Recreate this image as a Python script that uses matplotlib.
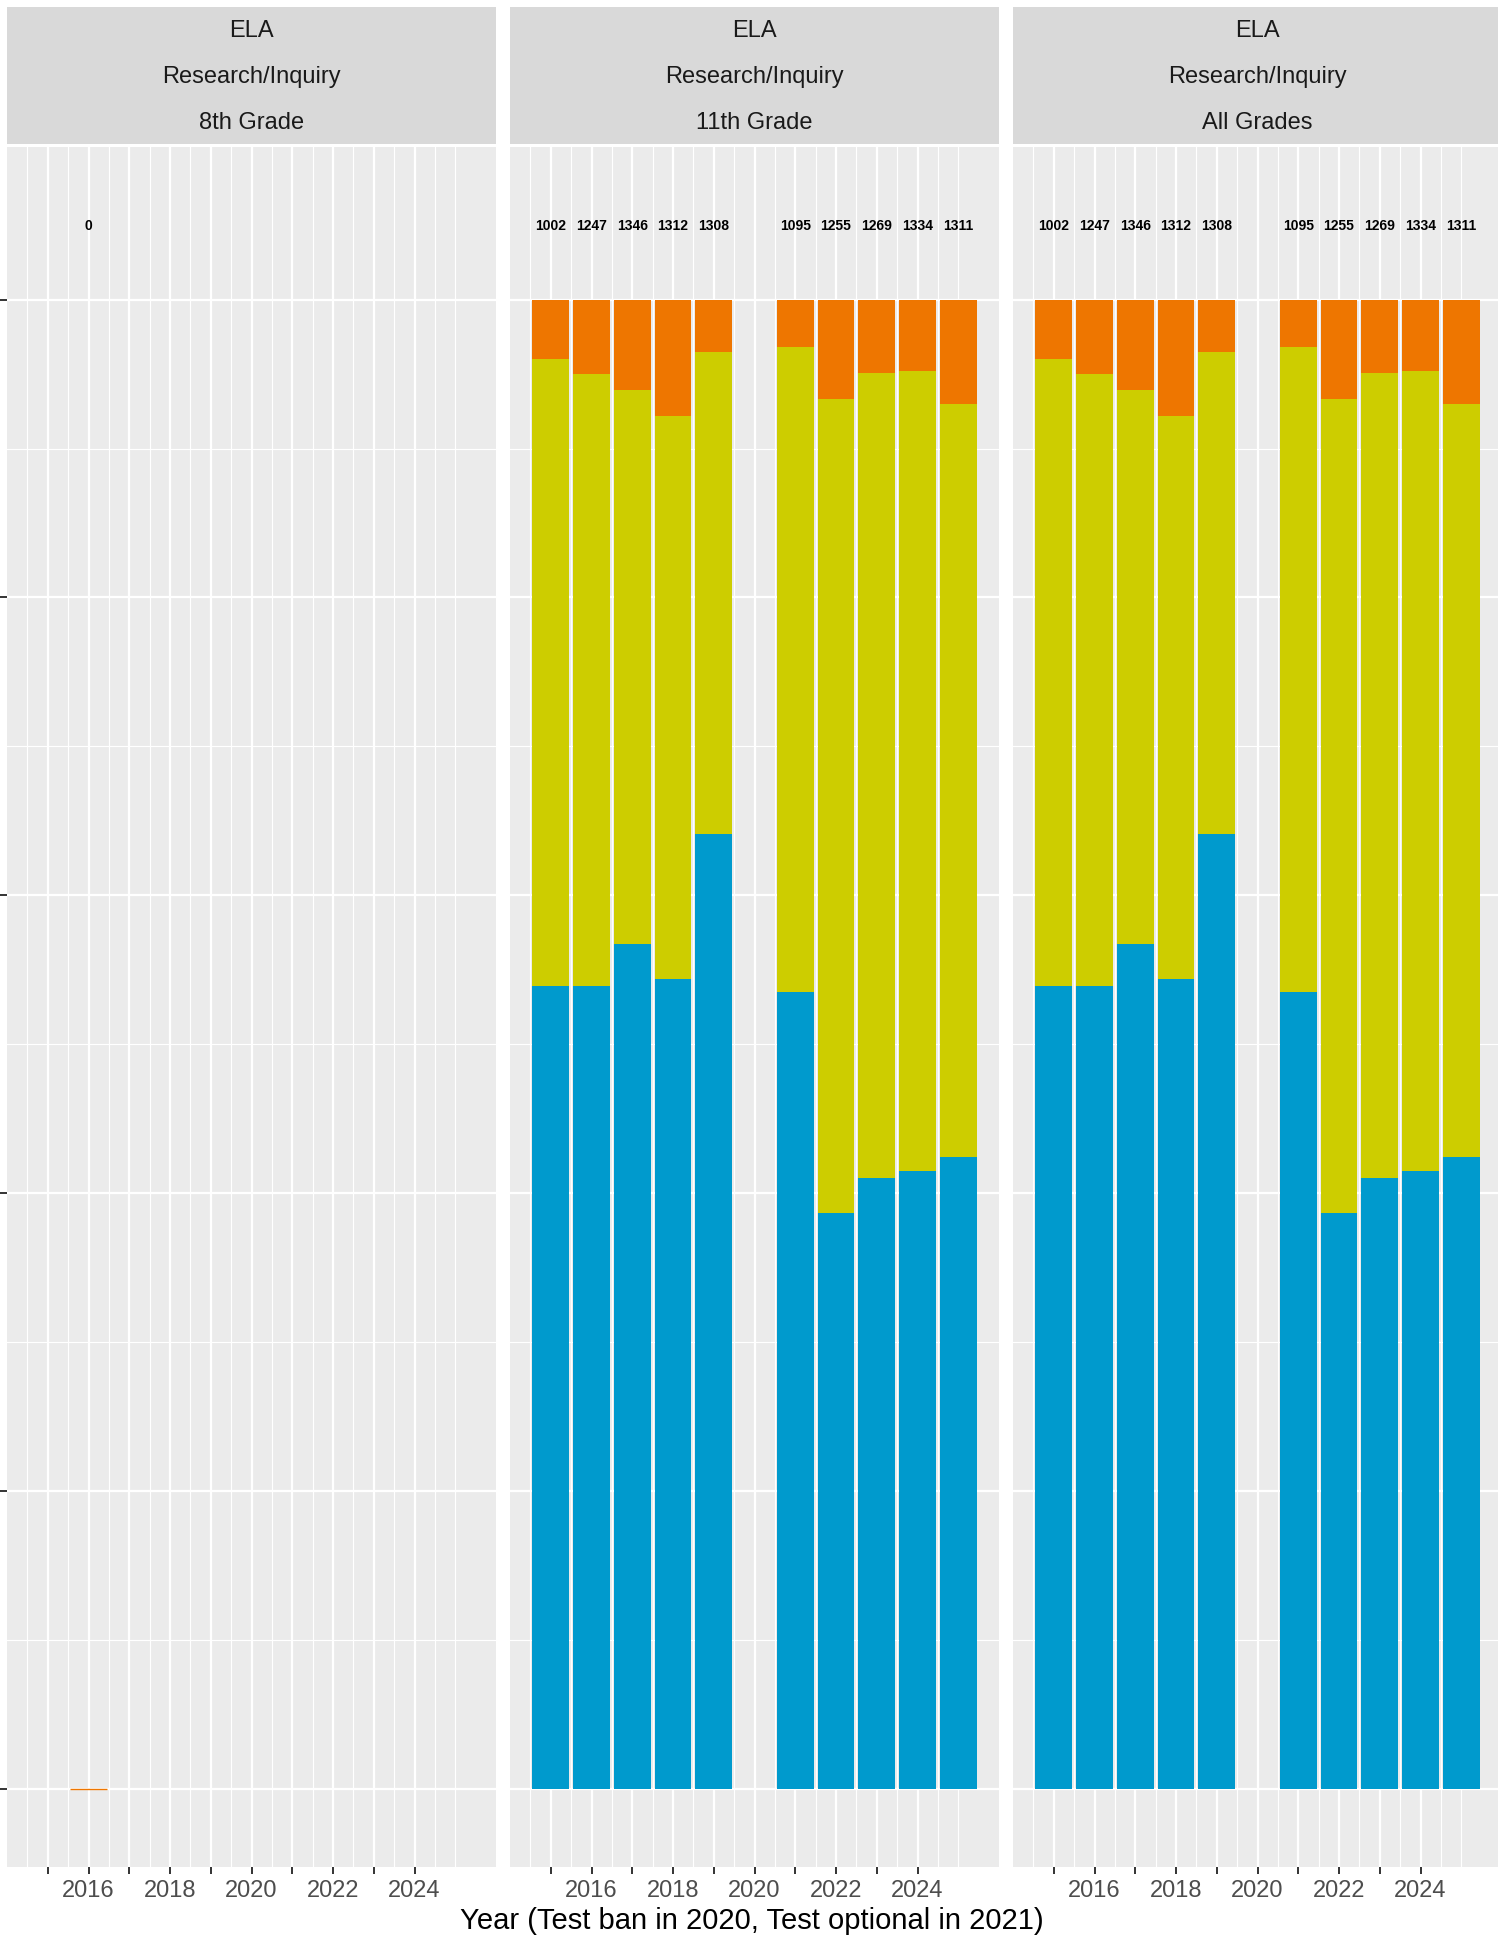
import matplotlib
matplotlib.use('Agg')
import matplotlib.pyplot as plt

####################################
# Data (shares)
####################################

panel_titles = ['8th Grade', '11th Grade', 'All Grades']
subject = 'ELA'
claim = 'Research/Inquiry'

# 8th grade has a single empty year
years_8 = [2016]
counts_8 = [0]
blue_8 = [0.0]
yellow_8 = [0.0]
orange_8 = [0.0]

years_11 = [2015, 2016, 2017, 2018, 2019, 2021, 2022, 2023, 2024, 2025]
counts_11 = [1002, 1247, 1346, 1312, 1308, 1095, 1255, 1269, 1334, 1311]
blue_11 = [0.539, 0.539, 0.567, 0.544, 0.641, 0.535, 0.387, 0.410, 0.415, 0.424]
yellow_11 = [0.421, 0.411, 0.372, 0.378, 0.324, 0.433, 0.546, 0.541, 0.537, 0.506]
orange_11 = [0.040, 0.050, 0.061, 0.078, 0.035, 0.032, 0.067, 0.049, 0.048, 0.070]

years_all = [2015, 2016, 2017, 2018, 2019, 2021, 2022, 2023, 2024, 2025]
counts_all = [1002, 1247, 1346, 1312, 1308, 1095, 1255, 1269, 1334, 1311]
blue_all = [0.539, 0.539, 0.567, 0.544, 0.641, 0.535, 0.387, 0.410, 0.415, 0.424]
yellow_all = [0.421, 0.411, 0.372, 0.378, 0.324, 0.433, 0.546, 0.541, 0.537, 0.506]
orange_all = [0.040, 0.050, 0.061, 0.078, 0.035, 0.032, 0.067, 0.049, 0.048, 0.070]

x_label_years = [2015, 2016, 2017, 2018, 2019, 2020, 2021, 2022, 2023, 2024]
x_labels = ['', '2016', '', '2018', '', '2020', '', '2022', '', '2024']

####################################
# Style
####################################

BLUE = '#009ACD'
YELLOW = '#CDCD00'
ORANGE = '#EE7600'
PANEL_BG = '#EBEBEB'
STRIP_BG = '#D9D9D9'

plt.rcParams['font.family'] = ['Liberation Sans', 'DejaVu Sans']

W, H = 1498, 1940
fig = plt.figure(figsize=(W / 100, H / 100), dpi=100)

# last panel runs a little past the right edge, as in the original
panel_left = [7, 510, 1013]
panel_w = 489
panel_top, panel_bot = 148, 1868
strip_top, strip_bot = 8, 145

panels = [
    (years_8, counts_8, blue_8, yellow_8, orange_8),
    (years_11, counts_11, blue_11, yellow_11, orange_11),
    (years_all, counts_all, blue_all, yellow_all, orange_all),
]

for i, (yrs, cnt, b, yl, o) in enumerate(panels):
    ax = fig.add_axes([panel_left[i] / W, 1 - panel_bot / H,
                       panel_w / W, (panel_bot - panel_top) / H])
    ax.set_facecolor(PANEL_BG)
    for s in ax.spines.values():
        s.set_visible(False)

    # stacked bars: blue bottom, yellow middle, orange top
    if sum(cnt) == 0:
        ax.bar(yrs, [0] * len(yrs), width=0.9, bottom=0, color=ORANGE,
               edgecolor=ORANGE, lw=1, zorder=3)
    else:
        ax.bar(yrs, b, width=0.9, color=BLUE, zorder=3)
        ax.bar(yrs, yl, width=0.9, bottom=b, color=YELLOW, zorder=3)
        bot3 = [p + q for p, q in zip(b, yl)]
        ax.bar(yrs, o, width=0.9, bottom=bot3, color=ORANGE, zorder=3)

    for yr, n in zip(yrs, cnt):
        ax.text(yr, 1.05, str(n), ha='center', va='center', fontsize=10,
                fontweight='bold', color='black', zorder=4)

    ax.set_xlim(2014.0, 2026.0)
    ax.set_ylim(-0.0525, 1.1025)

    ax.set_xticks(x_label_years)
    ax.set_xticklabels(x_labels)
    ax.set_xticks([2014.5 + k for k in range(11)] + [2025], minor=True)
    ax.set_yticks([0, 0.2, 0.4, 0.6, 0.8, 1.0])
    ax.set_yticks([0.1, 0.3, 0.5, 0.7, 0.9], minor=True)
    ax.set_yticklabels([])

    ax.grid(which='major', color='white', lw=1.6, zorder=0)
    ax.grid(which='minor', color='white', lw=0.8, zorder=0)
    ax.set_axisbelow(True)

    ax.tick_params(which='minor', length=0)
    ax.tick_params(which='major', length=5, width=1.4, color='#333333',
                   labelsize=17, labelcolor='#4D4D4D', pad=4)
    if i > 0:
        ax.tick_params(axis='y', left=False, labelleft=False)

    # facet strip
    sx = fig.add_axes([panel_left[i] / W, 1 - strip_bot / H,
                       panel_w / W, (strip_bot - strip_top) / H])
    sx.set_facecolor(STRIP_BG)
    sx.set_xticks([])
    sx.set_yticks([])
    for s in sx.spines.values():
        s.set_visible(False)
    for txt, yy in zip([subject, claim, panel_titles[i]], [0.832, 0.496, 0.161]):
        sx.text(0.5, yy, txt, ha='center', va='center', fontsize=17,
                color='#1A1A1A', transform=sx.transAxes)

fig.text(752 / W, 1 - 1921 / H, 'Year (Test ban in 2020, Test optional in 2021)',
         ha='center', va='center', fontsize=21, color='black')

fig.savefig('out.png', dpi=100)
